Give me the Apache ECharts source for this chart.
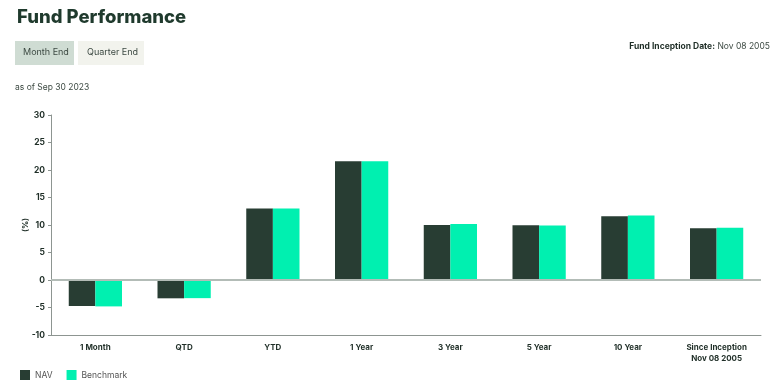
<!DOCTYPE html>
<html>
<head>
<meta charset="utf-8">
<script src="https://cdn.jsdelivr.net/npm/echarts@6/dist/echarts.min.js"></script>
<style>
html,body{margin:0;padding:0;background:#fff;}
#c{width:773px;height:388px;}
</style>
</head>
<body>
<div id="c"></div>
<script>
var categories = ['1 Month', 'QTD', 'YTD', '1 Year', '3 Year', '5 Year', '10 Year', 'Since Inception\nNov 08 2005'];
var navValues = [-4.73, -3.33, 13.0, 21.6, 10.0, 9.94, 11.6, 9.4];
var benchmarkValues = [-4.8, -3.3, 13.0, 21.6, 10.2, 9.9, 11.75, 9.5];
var yTicks = {min: -10, max: 30, interval: 5};

var FONT = 'Inter, "Open Sans", sans-serif';
var chart = echarts.init(document.getElementById('c'));
chart.setOption({
  animation: false,
  textStyle: {fontFamily: FONT},
  title: {
    text: 'Fund Performance', left: 12, top: 3,
    textStyle: {fontSize: 18.5, fontWeight: 800, color: '#1f3a2d', fontFamily: FONT}
  },
  graphic: [
    {type: 'rect', left: 15, top: 41, shape: {width: 59, height: 24}, style: {fill: '#cfdcd3'}},
    {type: 'text', left: 23, top: 48, style: {text: 'Month End', fill: '#3d4a43', font: '9px ' + FONT}},
    {type: 'rect', left: 78, top: 41, shape: {width: 66, height: 24}, style: {fill: '#f2f3ed'}},
    {type: 'text', left: 87, top: 48, style: {text: 'Quarter End', fill: '#3d4a43', font: '9px ' + FONT}},
    {type: 'text', left: 15, top: 83, style: {text: 'as of Sep 30 2023', fill: '#3d4a43', font: '8.5px ' + FONT}},
    {type: 'text', right: 3, top: 42, style: {
      text: '{b|Fund Inception Date:} Nov 08 2005',
      rich: {b: {fontWeight: 'bold', fill: '#1f2e27', color: '#1f2e27', fontSize: 8.5, fontFamily: FONT}},
      fill: '#3d4a43', font: '8.5px ' + FONT
    }}
  ],
  legend: {
    left: 15, bottom: 3, icon: 'rect', itemWidth: 10, itemHeight: 10, itemGap: 14,
    textStyle: {fontSize: 8.5, color: '#555', fontFamily: FONT},
    data: ['NAV', 'Benchmark']
  },
  grid: {left: 51, right: 12, top: 115, bottom: 53},
  xAxis: {
    type: 'category', data: categories,
    axisLine: {onZero: false, lineStyle: {color: '#8d9591', width: 1}},
    axisTick: {alignWithLabel: true, length: 4, lineStyle: {color: '#8d9591'}},
    axisLabel: {fontSize: 8, fontWeight: 'bold', color: '#1f2e27', margin: 7, lineHeight: 11, fontFamily: FONT}
  },
  yAxis: {
    type: 'value', min: yTicks.min, max: yTicks.max, interval: yTicks.interval,
    name: '(%)', nameLocation: 'middle', nameGap: 21, nameRotate: 90, nameMoveOverlap: false,
    nameTextStyle: {fontSize: 8, fontWeight: 'bold', color: '#1f2e27'},
    axisLine: {show: true, lineStyle: {color: '#8d9591'}},
    axisTick: {show: true, length: 3, lineStyle: {color: '#8d9591'}},
    splitLine: {show: false},
    axisLabel: {fontSize: 8.5, fontWeight: 'bold', color: '#1f2e27', margin: 6, fontFamily: FONT}
  },
  series: [
    {
      name: 'NAV', type: 'bar', data: navValues, barWidth: '30%', barGap: '0%',
      itemStyle: {color: '#283d33'},
      markLine: {
        silent: true, symbol: 'none', label: {show: false},
        lineStyle: {color: '#b3bcb7', width: 2, type: 'solid'},
        data: [{yAxis: 0}]
      }
    },
    {
      name: 'Benchmark', type: 'bar', data: benchmarkValues, barWidth: '30%',
      itemStyle: {color: '#00f0b0'}
    }
  ]
});
</script>
</body>
</html>
